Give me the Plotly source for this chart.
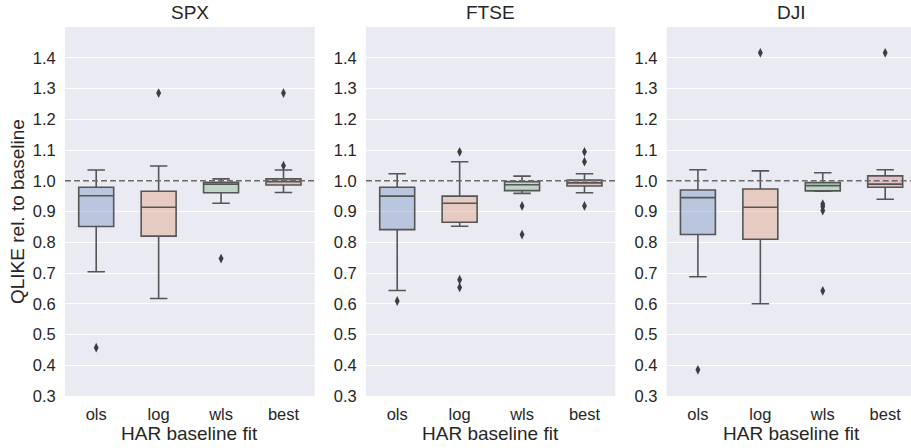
import plotly.graph_objects as go

categories = ["ols", "log", "wls", "best"]
markets = ["SPX", "FTSE", "DJI"]

spx_q1 = [0.851, 0.820, 0.961, 0.986]
spx_med = [0.951, 0.914, 0.989, 0.997]
spx_q3 = [0.979, 0.966, 0.995, 1.006]
spx_lo = [0.704, 0.617, 0.927, 0.962]
spx_hi = [1.035, 1.048, 1.006, 1.035]
spx_out = [[0.457], [1.285], [0.747], [1.049, 1.285]]

ftse_q1 = [0.841, 0.865, 0.968, 0.983]
ftse_med = [0.950, 0.927, 0.987, 0.993]
ftse_q3 = [0.979, 0.950, 0.997, 1.002]
ftse_lo = [0.643, 0.852, 0.959, 0.961]
ftse_hi = [1.023, 1.062, 1.015, 1.023]
ftse_out = [[0.609], [1.094, 0.678, 0.653], [0.918, 0.825], [1.094, 1.062, 0.918]]

dji_q1 = [0.825, 0.810, 0.967, 0.979]
dji_med = [0.945, 0.914, 0.984, 0.989]
dji_q3 = [0.970, 0.973, 0.994, 1.016]
dji_lo = [0.688, 0.600, 0.966, 0.940]
dji_hi = [1.036, 1.032, 1.026, 1.036]
dji_out = [[0.385], [1.416], [0.924, 0.916, 0.903, 0.642], [1.416]]

y_ticks = [0.3, 0.4, 0.5, 0.6, 0.7, 0.8, 0.9, 1.0, 1.1, 1.2, 1.3, 1.4]
baseline = 1.0
x_title = "HAR baseline fit"
y_title = "QLIKE rel. to baseline"

stats = [
    (spx_q1, spx_med, spx_q3, spx_lo, spx_hi, spx_out),
    (ftse_q1, ftse_med, ftse_q3, ftse_lo, ftse_hi, ftse_out),
    (dji_q1, dji_med, dji_q3, dji_lo, dji_hi, dji_out),
]

fills = ["rgba(76,114,176,0.3)", "rgba(221,132,82,0.3)",
         "rgba(85,168,104,0.3)", "rgba(196,78,82,0.28)"]
edge = "#555555"
txt = "#262626"
font_family = "Liberation Sans, Arial, sans-serif"

W, H = 911, 448
L, R, T, B = 65, 0, 27, 52
pw = W - L - R
ph = H - T - B
panels_px = [(65, 314.7), (366, 615.3), (666.7, 911)]
cat_px = (314.7 - 65) / 4.0

fig = go.Figure()
for i, (q1, med, q3, lo, hi, outs) in enumerate(stats):
    ax = "" if i == 0 else str(i + 1)
    for j, cat in enumerate(categories):
        fig.add_trace(go.Box(
            x=[cat], q1=[q1[j]], median=[med[j]], q3=[q3[j]],
            lowerfence=[lo[j]], upperfence=[hi[j]],
            fillcolor=fills[j], line=dict(color=edge, width=1.6),
            whiskerwidth=0.5, boxpoints=False, showlegend=False,
            xaxis="x" + ax, yaxis="y" + ax,
        ))
        fig.add_trace(go.Scatter(
            x=[cat] * len(outs[j]), y=outs[j], mode="markers",
            marker=dict(symbol="diamond-tall", size=7, color="#3d3d3d"),
            showlegend=False, xaxis="x" + ax, yaxis="y" + ax,
        ))
    fig.add_shape(type="line", xref="x" + ax + " domain", yref="y" + ax,
                  x0=0, x1=1, y0=baseline, y1=baseline,
                  line=dict(color="#6a6a6a", width=1.5, dash="6px,3px"))

annotations = []
layout = dict(
    width=W, height=H,
    margin=dict(l=L, r=R, t=T, b=B, pad=0),
    paper_bgcolor="white", plot_bgcolor="#EAEAF2",
    boxgap=0.2, boxmode="overlay",
    font=dict(family=font_family, color=txt, size=16),
)
for i, m in enumerate(markets):
    ax = "" if i == 0 else str(i + 1)
    x0p, x1p = panels_px[i]
    d0 = (x0p - L) / pw
    d1 = (x1p - L) / pw
    xend = -0.5 + (x1p - x0p) / cat_px
    cx = (x0p + 249.7 / 2 - L) / pw
    layout["xaxis" + ax] = dict(
        domain=[d0, min(d1, 1.0)], type="category",
        categoryorder="array", categoryarray=categories,
        range=[-0.5, xend], showgrid=False, zeroline=False,
        showline=False, ticks="outside", ticklen=3,
        tickcolor="rgba(0,0,0,0)", automargin=False,
        tickfont=dict(size=16.5, color=txt),
        anchor="y" + ax, fixedrange=True,
    )
    layout["yaxis" + ax] = dict(
        range=[0.3, 1.5], tickvals=y_ticks,
        ticktext=[f"{v:.1f}" for v in y_ticks],
        showgrid=True, gridcolor="white", gridwidth=1.2,
        zeroline=False, showline=False, ticks="outside", ticklen=5,
        tickcolor="rgba(0,0,0,0)", automargin=False,
        tickfont=dict(size=16.5, color=txt),
        anchor="x" + ax, fixedrange=True,
    )
    annotations.append(dict(
        text=m, xref="paper", yref="paper",
        x=cx, y=1 + (T - 12) / ph,
        xanchor="center", yanchor="middle", showarrow=False,
        font=dict(size=19, color=txt),
    ))
    annotations.append(dict(
        text=x_title, xref="paper", yref="paper",
        x=cx, y=-(433 - (H - B)) / ph,
        xanchor="center", yanchor="middle", showarrow=False,
        font=dict(size=19, color=txt),
    ))
annotations.append(dict(
    text=y_title, xref="paper", yref="paper",
    x=(17.5 - L) / pw, y=0.5, textangle=-90,
    xanchor="center", yanchor="middle", showarrow=False,
    font=dict(size=19, color=txt),
))
layout["annotations"] = annotations

fig.update_layout(**layout)
fig.write_html("out.html",
               config={"displayModeBar": False},
               post_script="document.body.style.margin='0px';document.body.style.overflow='hidden';")
